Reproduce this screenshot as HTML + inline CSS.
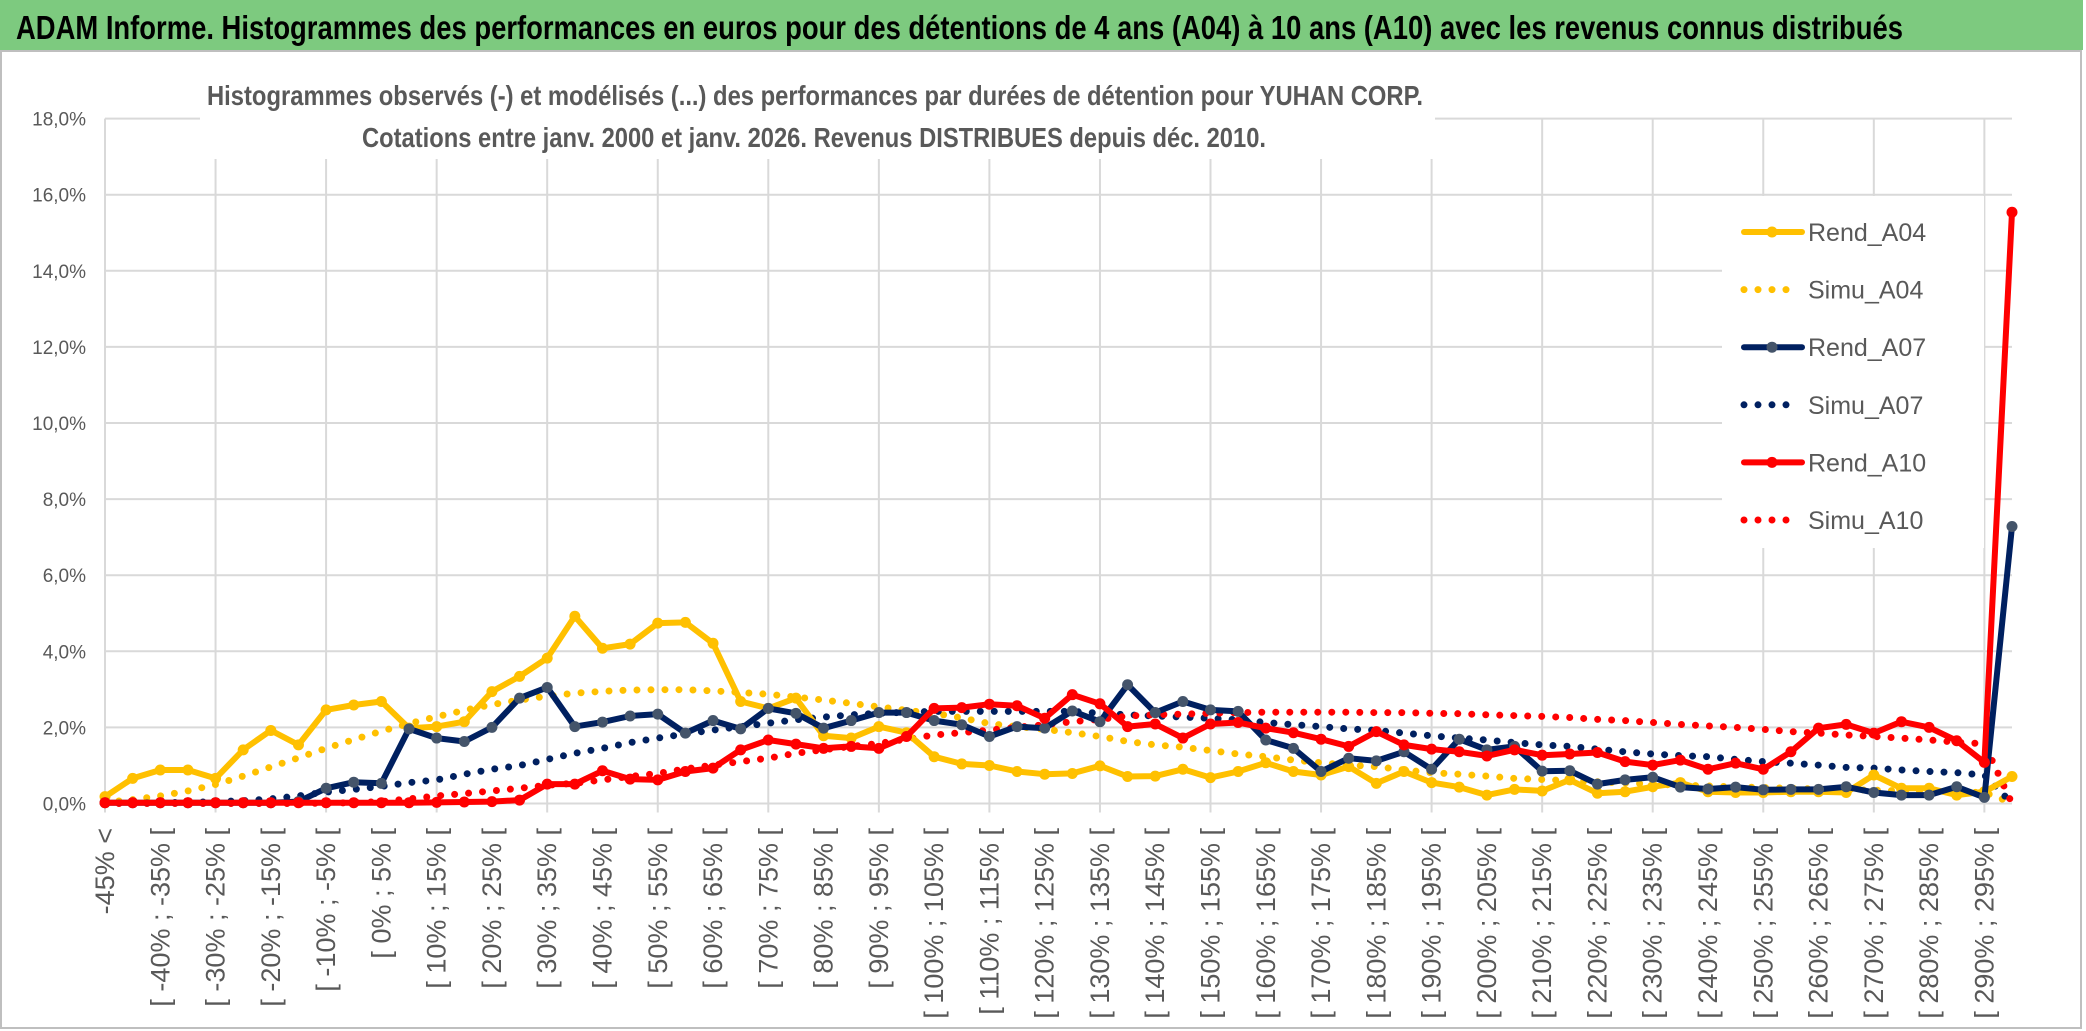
<!DOCTYPE html>
<html><head><meta charset="utf-8"><style>
html,body{margin:0;padding:0;background:#fff;}
svg{display:block;font-family:"Liberation Sans",sans-serif;}
</style></head><body>
<svg id="chart" width="2086" height="1031" viewBox="0 0 2086 1031" xmlns="http://www.w3.org/2000/svg">
<rect x="0" y="0" width="2086" height="1031" fill="#fff"/>
<rect x="0" y="0" width="2083" height="50" fill="#7DCA7F"/>
<text x="16" y="39" font-size="33" font-weight="bold" fill="#000" textLength="1887" lengthAdjust="spacingAndGlyphs">ADAM Informe. Histogrammes des performances en euros pour des détentions de 4 ans (A04) à 10 ans (A10) avec les revenus connus distribués</text>
<rect x="1" y="51" width="2080" height="977" fill="none" stroke="#BFBFBF" stroke-width="2"/>
<g id="grid"></g>
<rect x="200" y="70" width="1235" height="89" fill="#fff"/>
<text x="207" y="105" font-size="28" font-weight="bold" fill="#595959" textLength="1216" lengthAdjust="spacingAndGlyphs">Histogrammes observés (-) et modélisés (...) des performances par durées de détention pour YUHAN CORP.</text>
<text x="362" y="147" font-size="28" font-weight="bold" fill="#595959" textLength="904" lengthAdjust="spacingAndGlyphs">Cotations entre janv. 2000 et janv. 2026. Revenus DISTRIBUES depuis déc. 2010.</text>
<g id="axes"></g>
<rect x="1722" y="196" width="262" height="352" fill="#fff"/>
<g id="series"></g>
<g id="legend"></g>
</svg>
<script>
const rendA04 = [0.18,0.66,0.88,0.88,0.66,1.41,1.92,1.54,2.46,2.59,2.68,1.98,2.02,2.15,2.94,3.34,3.82,4.92,4.08,4.19,4.74,4.76,4.21,2.68,2.50,2.77,1.78,1.72,2.02,1.86,1.23,1.04,1.00,0.84,0.77,0.79,0.99,0.71,0.72,0.90,0.68,0.84,1.07,0.84,0.75,0.97,0.53,0.84,0.55,0.43,0.22,0.37,0.33,0.62,0.27,0.31,0.44,0.55,0.31,0.29,0.29,0.31,0.31,0.29,0.75,0.40,0.40,0.22,0.31,0.71];
const simuA04 = [0.03,0.10,0.20,0.33,0.50,0.72,0.96,1.20,1.45,1.68,1.90,2.10,2.28,2.45,2.60,2.72,2.82,2.90,2.95,2.98,2.99,2.99,2.96,2.92,2.87,2.80,2.72,2.63,2.54,2.45,2.37,2.25,2.10,2.02,1.95,1.86,1.76,1.63,1.54,1.48,1.39,1.30,1.23,1.14,1.07,1.01,0.97,0.88,0.81,0.77,0.72,0.66,0.63,0.60,0.57,0.54,0.51,0.48,0.46,0.44,0.42,0.40,0.38,0.36,0.35,0.33,0.32,0.30,0.29,0.02];
const rendA07 = [0.02,0.02,0.02,0.02,0.02,0.02,0.02,0.05,0.40,0.56,0.53,1.96,1.72,1.63,2.00,2.77,3.05,2.02,2.14,2.30,2.35,1.85,2.18,1.96,2.50,2.37,1.98,2.18,2.39,2.39,2.18,2.07,1.76,2.02,1.98,2.43,2.15,3.12,2.39,2.68,2.46,2.42,1.67,1.45,0.84,1.19,1.12,1.36,0.90,1.69,1.41,1.50,0.85,0.86,0.51,0.62,0.69,0.43,0.38,0.43,0.36,0.37,0.37,0.44,0.29,0.22,0.22,0.44,0.16,7.28];
const simuA07 = [0.01,0.01,0.02,0.03,0.05,0.07,0.12,0.20,0.30,0.37,0.45,0.55,0.62,0.77,0.90,1.00,1.16,1.32,1.45,1.60,1.72,1.83,1.93,2.02,2.11,2.20,2.27,2.33,2.37,2.40,2.42,2.42,2.42,2.42,2.42,2.42,2.37,2.33,2.30,2.27,2.24,2.20,2.13,2.07,2.02,1.96,1.92,1.85,1.78,1.72,1.67,1.60,1.54,1.50,1.43,1.36,1.30,1.26,1.23,1.16,1.10,1.06,1.01,0.95,0.93,0.88,0.84,0.81,0.75,0.00];
const rendA10 = [0.02,0.02,0.02,0.02,0.02,0.02,0.02,0.02,0.02,0.02,0.02,0.02,0.03,0.04,0.05,0.09,0.51,0.51,0.86,0.64,0.62,0.84,0.93,1.41,1.67,1.56,1.45,1.50,1.45,1.76,2.50,2.52,2.61,2.57,2.24,2.86,2.62,2.02,2.09,1.72,2.09,2.13,1.98,1.86,1.69,1.50,1.89,1.54,1.43,1.36,1.25,1.41,1.27,1.30,1.34,1.10,1.01,1.14,0.90,1.06,0.90,1.36,1.98,2.08,1.85,2.15,2.00,1.65,1.08,15.54];
const simuA10 = [0.00,0.00,0.00,0.00,0.00,0.00,0.00,0.00,0.01,0.02,0.05,0.12,0.20,0.26,0.33,0.40,0.48,0.53,0.62,0.71,0.79,0.91,1.01,1.10,1.19,1.32,1.41,1.50,1.58,1.69,1.80,1.86,1.93,2.00,2.07,2.15,2.21,2.30,2.33,2.35,2.37,2.39,2.40,2.40,2.40,2.40,2.39,2.39,2.37,2.36,2.33,2.31,2.29,2.26,2.21,2.18,2.13,2.08,2.04,2.00,1.95,1.89,1.85,1.80,1.76,1.72,1.67,1.61,1.57,0.00];
const yTicks = [0,2,4,6,8,10,12,14,16,18];
const categories = [];
categories.push('-45% <');
for (let lo = -45; lo < 300; lo += 5) categories.push('[ ' + lo + '% ; ' + (lo + 5) + '% [');

const NS = 'http://www.w3.org/2000/svg';
const X0 = 105, X1 = 2012, Y0 = 803.5, PERPCT = 38.05;
const DX = (X1 - X0) / (categories.length - 1);
function xs(i){ return X0 + i * DX; }
function ys(v){ return Y0 - v * PERPCT; }
function mk(tag, attrs, parent){ const e = document.createElementNS(NS, tag); for (const k in attrs) e.setAttribute(k, attrs[k]); parent.appendChild(e); return e; }

const grid = document.getElementById('grid');
yTicks.forEach(t => {
  const l = mk('line', {x1: X0, x2: X1, y1: ys(t), y2: ys(t), stroke: '#D9D9D9', 'stroke-width': 2}, grid);
  
  
});
for (let i = 0; i < categories.length; i += 4) {
  const l = mk('line', {x1: xs(i), x2: xs(i), y1: ys(18), y2: Y0 + 9, stroke: '#D9D9D9', 'stroke-width': 2}, grid);
  
  
}
const axes = document.getElementById('axes');
yTicks.forEach(t => {
  const tx = mk('text', {x: 86, y: ys(t) + 7, 'text-anchor': 'end', 'font-size': 19, fill: '#595959'}, axes);
  tx.textContent = t.toFixed(1).replace('.', ',') + '%';
  
  
});
categories.forEach((c, i) => {
  if (i % 2) return;
  const x = xs(i) + 9, y = 828;
  const tx = mk('text', {x: x, y: y, 'text-anchor': 'end', 'font-size': 27, fill: '#595959', transform: 'rotate(-90 ' + x + ' ' + y + ')'}, axes);
  tx.textContent = c;
  
  
});

const series = document.getElementById('series');
function pts(arr){ return arr.map((v, i) => xs(i).toFixed(1) + ',' + ys(v).toFixed(1)).join(' '); }
function dotted(arr, color, name){
  const p = mk('polyline', {points: pts(arr), fill: 'none', stroke: color, 'stroke-width': 7, 'stroke-linecap': 'round', 'stroke-dasharray': '0 14'}, series);
  
  
}
function solid(arr, color, mcolor, name){
  const p = mk('polyline', {points: pts(arr), fill: 'none', stroke: color, 'stroke-width': 6, 'stroke-linejoin': 'round'}, series);
  
  
  arr.forEach((v, i) => {
    const c = mk('circle', {cx: xs(i), cy: ys(v), r: 5.5, fill: mcolor}, series);
    
    
  });
}
dotted(simuA04, '#FFC000', 'simu-a04-line');
dotted(simuA07, '#002060', 'simu-a07-line');
dotted(simuA10, '#FF0000', 'simu-a10-line');
solid(rendA04, '#FFC000', '#FFC000', 'rend-a04-line');
solid(rendA07, '#002060', '#44546A', 'rend-a07-line');
solid(rendA10, '#FF0000', '#FF0000', 'rend-a10-line');

const legend = document.getElementById('legend');
const legItems = [['Rend_A04','#FFC000','#FFC000',false],['Simu_A04','#FFC000',null,true],['Rend_A07','#002060','#44546A',false],['Simu_A07','#002060',null,true],['Rend_A10','#FF0000','#FF0000',false],['Simu_A10','#FF0000',null,true]];
legItems.forEach((it, k) => {
  const y = 232 + k * 57.6;
  const g = mk('g', {}, legend);
  
  
  if (it[3]) {
    mk('line', {x1: 1744, x2: 1796, y1: y, y2: y, stroke: it[1], 'stroke-width': 7, 'stroke-linecap': 'round', 'stroke-dasharray': '0 14'}, g);
  } else {
    mk('line', {x1: 1744, x2: 1802, y1: y, y2: y, stroke: it[1], 'stroke-width': 6, 'stroke-linecap': 'round'}, g);
    mk('circle', {cx: 1772, cy: y, r: 5.5, fill: it[2]}, g);
  }
  const t = mk('text', {x: 1808, y: y + 9, 'font-size': 25, fill: '#595959'}, g);
  t.textContent = it[0];
});
</script>
</body></html>
